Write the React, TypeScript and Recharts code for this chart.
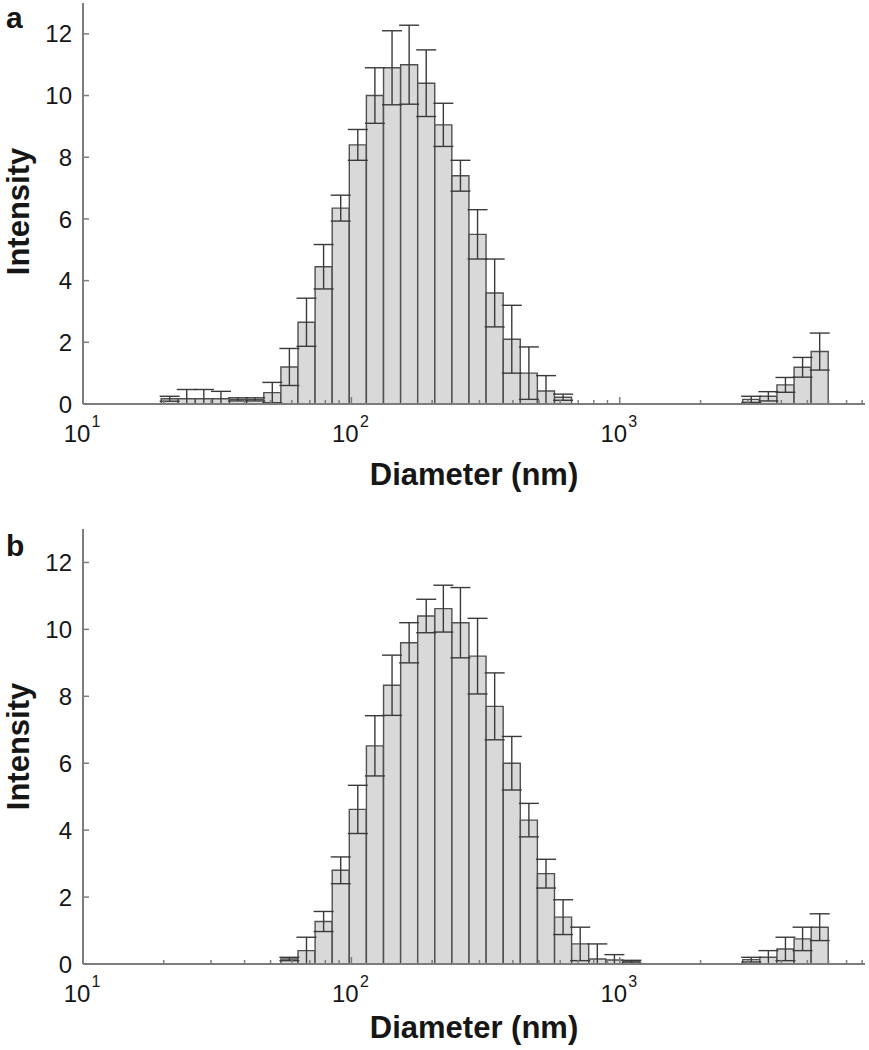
import { Bar, BarChart, ErrorBar, XAxis, YAxis } from 'recharts';

// bin centres (nm), intensities and error bars
const sizesA = [21.04, 24.36, 28.21, 32.67, 37.84, 43.82, 50.75, 58.77, 68.06, 78.82, 91.28, 105.7, 122.4, 141.8, 164.2, 190.1, 220.2, 255.0, 295.3, 342.0, 396.1, 458.7, 531.2, 615.1, 3091, 3580, 4145, 4801, 5560];
const intensityA = [0.17, 0.17, 0.17, 0.17, 0.15, 0.15, 0.37, 1.2, 2.65, 4.45, 6.35, 8.4, 10.0, 10.9, 11.0, 10.4, 9.05, 7.4, 5.5, 3.6, 2.1, 1.0, 0.42, 0.22, 0.15, 0.25, 0.62, 1.19, 1.7];
const errA = [0.08, 0.3, 0.3, 0.24, 0.05, 0.05, 0.33, 0.6, 0.78, 0.72, 0.42, 0.5, 0.9, 1.2, 1.28, 1.08, 0.7, 0.5, 0.8, 1.1, 1.1, 0.85, 0.5, 0.1, 0.1, 0.15, 0.24, 0.32, 0.6];

const sizesB = [58.77, 68.06, 78.82, 91.28, 105.7, 122.4, 141.8, 164.2, 190.1, 220.2, 255.0, 295.3, 342.0, 396.1, 458.7, 531.2, 615.1, 712.4, 825.0, 955.4, 1106, 3091, 3580, 4145, 4801, 5560];
const intensityB = [0.15, 0.4, 1.27, 2.8, 4.62, 6.52, 8.33, 9.6, 10.4, 10.62, 10.2, 9.2, 7.7, 6.0, 4.3, 2.7, 1.4, 0.6, 0.15, 0.12, 0.07, 0.13, 0.2, 0.45, 0.75, 1.1];
const errB = [0.05, 0.4, 0.3, 0.4, 0.72, 0.9, 0.9, 0.6, 0.5, 0.7, 1.05, 1.13, 1.0, 0.8, 0.5, 0.43, 0.52, 0.5, 0.45, 0.16, 0.04, 0.07, 0.2, 0.35, 0.35, 0.4];

const xMajorTicks = [10, 100, 1000];
const xTicks = [10, 20, 30, 40, 50, 60, 70, 80, 90, 100, 200, 300, 400, 500, 600, 700, 800, 900, 1000, 2000, 3000, 4000, 5000, 6000, 7000, 8000];
const yTicks = [0, 2, 4, 6, 8, 10, 12];
const xDomain = [10, 8200];
const yDomain = [0, 13];

const AXIS = '#7d7d7d';
const INK = '#161616';
const FONT = '"Liberation Sans", Arial, Helvetica, sans-serif';

// error bars are cut at the zero line, as in the figure
const toRows = (sizes: number[], values: number[], errs: number[]) =>
  sizes.map((size, i) => ({ size, intensity: values[i], err: [Math.min(errs[i], values[i]), errs[i]] }));

const dataA = toRows(sizesA, intensityA, errA);
const dataB = toRows(sizesB, intensityB, errB);

const isMajor = (v: number) => xMajorTicks.includes(v);

const bottomTick = (p: any) => {
  const { x, y, payload } = p;
  const v = payload.value;
  const major = isMajor(v);
  return (
    <g>
      <line x1={x} x2={x} y1={y} y2={y - (major ? 7 : 4)} stroke={AXIS} strokeWidth={1.5} />
      {major && (
        <text x={x - 6} y={y + 37.5} textAnchor="middle" fontSize={24} fill={INK} fontFamily={FONT}>
          10
        </text>
      )}
      {major && (
        <text x={x + 8.5} y={y + 22.5} textAnchor="start" fontSize={16} fill={INK} fontFamily={FONT}>
          {Math.round(Math.log10(v))}
        </text>
      )}
    </g>
  );
};

const topTick = (p: any) => {
  const { x, y, payload } = p;
  const len = isMajor(payload.value) ? 7 : 4;
  return <line x1={x} x2={x} y1={y} y2={y + len} stroke={AXIS} strokeWidth={1.5} />;
};

const leftTick = (p: any) => {
  const { x, y, payload } = p;
  return (
    <g>
      <line x1={x} x2={x + 6} y1={y} y2={y} stroke={AXIS} strokeWidth={1.5} />
      <text x={x - 11} y={y} dy="0.36em" textAnchor="end" fontSize={24} fill={INK} fontFamily={FONT}>
        {payload.value}
      </text>
    </g>
  );
};

const rightTick = (p: any) => {
  const { x, y } = p;
  return <line x1={x} x2={x - 6} y1={y} y2={y} stroke={AXIS} strokeWidth={1.5} />;
};

const intensityLabel = (shift: number) => (props: any) => {
  const vb = props.viewBox;
  const lx = vb.x + 28.5;
  const ly = vb.y + vb.height / 2 + shift;
  return (
    <text
      x={lx}
      y={ly}
      transform={`rotate(-90 ${lx} ${ly})`}
      textAnchor="middle"
      fontSize={31}
      fontWeight="bold"
      fill={INK}
      fontFamily={FONT}
    >
      Intensity
    </text>
  );
};

interface PanelProps {
  data: { size: number; intensity: number; err: number[] }[];
  height: number;
  top: number;
  axisHeight: number;
  labelOffset: number;
  labelShift: number;
}

function Panel({ data, height, top, axisHeight, labelOffset, labelShift }: PanelProps) {
  return (
    <BarChart
      width={869}
      height={height}
      data={data}
      margin={{ top, right: 4, bottom: 0, left: 0 }}
      barCategoryGap={0}
      barGap={0}
    >
      <XAxis
        dataKey="size"
        type="number"
        scale="log"
        domain={xDomain}
        allowDataOverflow
        ticks={xTicks}
        interval={0}
        height={axisHeight}
        tickSize={0}
        tickMargin={0}
        tickLine={false}
        tick={bottomTick}
        axisLine={{ stroke: AXIS, strokeWidth: 2 }}
        label={{
          value: 'Diameter (nm)',
          position: 'insideBottom',
          offset: labelOffset,
          fontSize: 31,
          fontWeight: 'bold',
          fill: INK,
          fontFamily: FONT,
        }}
      />
      <XAxis
        xAxisId="top"
        orientation="top"
        type="number"
        scale="log"
        domain={xDomain}
        allowDataOverflow
        ticks={xTicks}
        interval={0}
        height={0}
        tickSize={0}
        tickMargin={0}
        tickLine={false}
        tick={topTick}
        axisLine={{ stroke: AXIS, strokeWidth: 2 }}
      />
      <YAxis
        type="number"
        domain={yDomain}
        allowDataOverflow
        ticks={yTicks}
        interval={0}
        width={83}
        tickSize={0}
        tickMargin={0}
        tickLine={false}
        tick={leftTick}
        axisLine={{ stroke: AXIS, strokeWidth: 2 }}
        label={{ content: intensityLabel(labelShift) }}
      />
      <YAxis
        yAxisId="right"
        orientation="right"
        type="number"
        domain={yDomain}
        allowDataOverflow
        ticks={yTicks}
        interval={0}
        width={0}
        tickSize={0}
        tickMargin={0}
        tickLine={false}
        tick={rightTick}
        axisLine={{ stroke: AXIS, strokeWidth: 2 }}
      />
      <Bar dataKey="intensity" fill="#d9d9d9" stroke="#505050" strokeWidth={1.4} isAnimationActive={false}>
        <ErrorBar dataKey="err" width={10} stroke="#3a3a3a" strokeWidth={1.4} direction="y" isAnimationActive={false} />
      </Bar>
    </BarChart>
  );
}

export default function App() {
  return (
    <div style={{ position: 'absolute', left: 0, top: 0, width: 869, height: 1050, background: '#fff' }}>
      <div style={{ position: 'absolute', left: 0, top: 0 }}>
        <Panel data={dataA} height={500} top={3} axisHeight={96} labelOffset={15} labelShift={8} />
      </div>
      <div style={{ position: 'absolute', left: 0, top: 500 }}>
        <Panel data={dataB} height={550} top={29} axisHeight={86} labelOffset={12} labelShift={0} />
      </div>
      <svg width={869} height={1050} style={{ position: 'absolute', left: 0, top: 0, pointerEvents: 'none' }}>
        <text x={6} y={28} fontSize={30} fontWeight="bold" fill={INK} fontFamily={FONT}>
          a
        </text>
        <text x={6} y={556} fontSize={30} fontWeight="bold" fill={INK} fontFamily={FONT}>
          b
        </text>
      </svg>
    </div>
  );
}
